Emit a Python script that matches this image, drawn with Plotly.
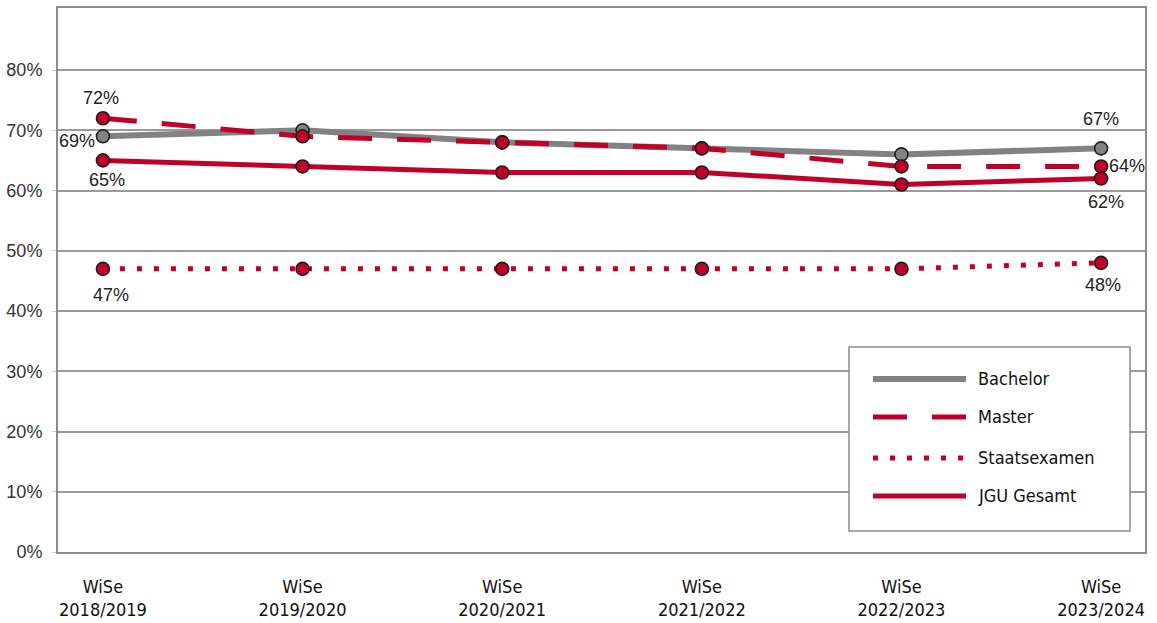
import plotly.graph_objects as go

# Winter semesters (x categories)
semesters = ["WiSe<br>2018/2019", "WiSe<br>2019/2020", "WiSe<br>2020/2021",
             "WiSe<br>2021/2022", "WiSe<br>2022/2023", "WiSe<br>2023/2024"]

# Shares in percent per degree type
bachelor = [69, 70, 68, 67, 66, 67]
master = [72, 69, 68, 67, 64, 64]
staatsexamen = [47, 47, 47, 47, 47, 48]
jgu_gesamt = [65, 64, 63, 63, 61, 62]

y_ticks = [0, 10, 20, 30, 40, 50, 60, 70, 80]
y_tick_labels = ["0%", "10%", "20%", "30%", "40%", "50%", "60%", "70%", "80%"]

RED = "#c1002a"
GRAY = "#828282"
EDGE = "#1e1e1e"
NARROW = "DejaVu Sans Condensed, sans-serif"
ARIAL = "Liberation Sans, Arial, sans-serif"

DASH = "34px,25px"
DOT = "5px,12px"

series = [
    ("Bachelor", bachelor, GRAY, 6, "solid"),
    ("Master", master, RED, 5, DASH),
    ("Staatsexamen", staatsexamen, RED, 5, DOT),
    ("JGU Gesamt", jgu_gesamt, RED, 5, "solid"),
]

fig = go.Figure()
for name, values, color, width, dash in series:
    fig.add_trace(go.Scatter(
        x=semesters, y=values, name=name, mode="lines+markers",
        line=dict(color=color, width=width, dash=dash),
        marker=dict(size=13, color=color, line=dict(color=EDGE, width=1.6)),
        showlegend=False, hoverinfo="x+y",
    ))

# Value labels: (series values, point index, xshift, yshift, xanchor)
labelled = [
    (master, 0, -2, 20, "center"),
    (bachelor, 0, -6, -5, "right"),
    (jgu_gesamt, 0, 4, -20, "center"),
    (staatsexamen, 0, 8, -26, "center"),
    (bachelor, 5, 0, 29, "center"),
    (master, 5, 6, 0, "left"),
    (jgu_gesamt, 5, 5, -24, "center"),
    (staatsexamen, 5, 2, -22, "center"),
]
for values, i, dx, dy, anchor in labelled:
    fig.add_annotation(
        x=semesters[i], y=values[i], text=f"{values[i]}%", showarrow=False,
        xanchor=anchor, yanchor="middle", xshift=dx, yshift=dy,
        font=dict(family=ARIAL, size=18, color="#222222"),
    )

# Hand-drawn legend box with long line samples
L, R, T, B = 58, 1145, 8, 552


def px_x(p):
    return (p - L) / (R - L)


def px_y(p):
    return (B - p) / (B - T)


fig.add_shape(type="rect", xref="paper", yref="paper",
              x0=px_x(849), x1=px_x(1130), y0=px_y(531), y1=px_y(347),
              line=dict(color="#8c8c8c", width=1.5), fillcolor="white", layer="above")
legend_rows = [379, 417, 458, 496]
for (name, _, color, width, dash), row in zip(series, legend_rows):
    fig.add_shape(type="line", xref="paper", yref="paper",
                  x0=px_x(873), x1=px_x(966), y0=px_y(row), y1=px_y(row),
                  line=dict(color=color, width=width, dash=dash), layer="above")
    fig.add_annotation(xref="paper", yref="paper", x=px_x(976), y=px_y(row - 1),
                       text=name, showarrow=False, xanchor="left", yanchor="middle",
                       font=dict(family=NARROW, size=18, color="#111111"))

fig.update_layout(
    width=1157, height=623,
    margin=dict(l=L, r=1157 - R, t=T, b=623 - B, autoexpand=False),
    paper_bgcolor="white", plot_bgcolor="white",
    xaxis=dict(
        type="category", range=[-0.225, 5.22], automargin=False,
        showline=True, linecolor="#8c8c8c", linewidth=2, mirror=True,
        showgrid=False, ticks="", ticklabelstandoff=17,
        tickfont=dict(family=NARROW, size=18, color="#111111"),
    ),
    yaxis=dict(
        range=[0, 90.3], tickvals=y_ticks, ticktext=y_tick_labels, automargin=False,
        showline=True, linecolor="#8c8c8c", linewidth=2, mirror=True,
        showgrid=True, gridcolor="#9a9a9a", gridwidth=1.5, zeroline=False,
        ticks="outside", ticklen=4, tickcolor="#cccccc", tickwidth=1,
        ticklabelstandoff=6,
        tickfont=dict(family=ARIAL, size=18, color="#333333"),
    ),
)

fig.write_html("out.html")
